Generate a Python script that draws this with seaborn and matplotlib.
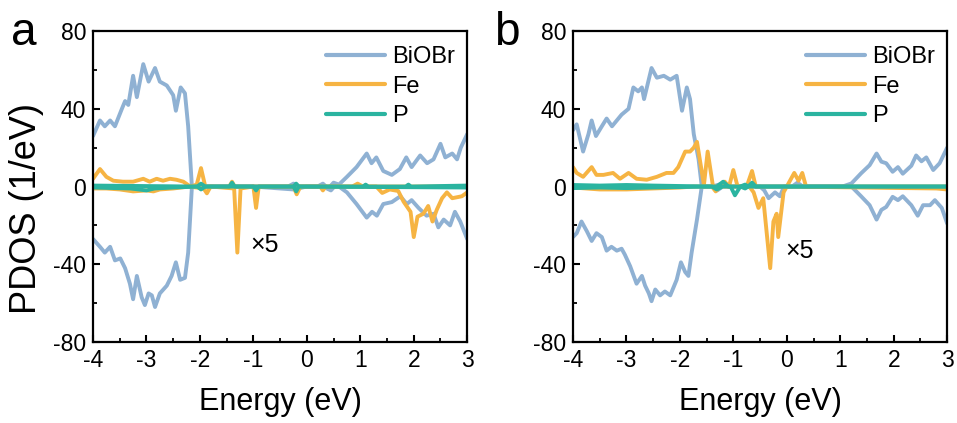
import numpy as np
import pandas as pd
import matplotlib
matplotlib.use("Agg")
import matplotlib.pyplot as plt
from matplotlib.ticker import MultipleLocator
import seaborn as sns

# ---------------- data ----------------
series_names = ["BiOBr", "Fe", "P"]
colors = {"BiOBr": "#8FB1D3", "Fe": "#F6B443", "P": "#2BB4A0"}
x_ticks = [-4, -3, -2, -1, 0, 1, 2, 3]
y_ticks = [-80, -40, 0, 40, 80]
panel_labels = ["a", "b"]

# ---- panel a ----
a_bi_up_x = [-4.0, -3.87, -3.78, -3.68, -3.59, -3.46, -3.40, -3.34, -3.25, -3.18, -3.06, -2.96,
             -2.84, -2.75, -2.62, -2.50, -2.45, -2.36, -2.28, -2.22, -2.15, -2.0, -1.0, -0.35,
             -0.25, -0.15, 0.2, 0.3, 0.4, 0.5, 0.6, 0.75, 0.93, 1.12, 1.21, 1.30, 1.43, 1.59,
             1.74, 1.86, 1.96, 2.12, 2.25, 2.37, 2.50, 2.59, 2.72, 2.81, 2.88, 3.0]
a_bi_up_y = [26, 34, 31, 34, 31, 40, 44, 42, 57, 46, 63, 54,
             61, 54, 52, 47, 39, 51, 48, 31, 0, 0, 0, 0,
             1.5, 0, 0, 1.5, -1, 2, 1, 5, 10, 17, 12, 15, 8, 6,
             9, 15, 10, 16, 12, 14, 22, 15, 17, 14, 20, 27]
a_bi_dn_x = [-4.0, -3.87, -3.78, -3.68, -3.59, -3.49, -3.40, -3.31, -3.25, -3.18, -3.09, -3.03,
             -2.96, -2.90, -2.84, -2.75, -2.62, -2.53, -2.45, -2.37, -2.28, -2.22, -2.15, -2.0,
             -1.0, -0.25, 0.0, 0.3, 0.45, 0.55, 0.65, 0.75, 0.93, 1.12, 1.22, 1.31, 1.43, 1.59,
             1.75, 1.87, 1.96, 2.09, 2.24, 2.37, 2.46, 2.56, 2.68, 2.77, 2.87, 3.0]
a_bi_dn_y = [-27, -31, -34, -31, -38, -37, -42, -50, -58, -46, -57, -61,
             -55, -56, -62, -55, -51, -46, -39, -48, -47, -34, 0, 0,
             0, -1.5, 0, 0, -2, 1, -1, -3, -9, -16, -13, -15, -9, -8,
             -5, -9, -7, -11, -15, -14, -21, -17, -20, -13, -18, -27]
a_fe_up_x = [-4.0, -3.87, -3.75, -3.62, -3.44, -3.25, -3.06, -2.94, -2.81, -2.69, -2.56, -2.44,
             -2.31, -2.18, -2.06, -1.98, -1.90, -1.45, -1.40, -1.35, 0.85, 0.95, 1.05, 3.0]
a_fe_up_y = [4, 9, 5, 3, 2.5, 2.5, 4, 2.5, 4, 3, 4, 3.5,
             2.5, 0, 1, 9.5, 0, 0, 2.5, 0, 0, 1.5, 0, 0]
a_fe_dn_x = [-4.0, -3.75, -3.5, -3.25, -3.0, -2.87, -2.75, -2.5, -2.2, -1.93, -1.87, -1.80,
             -1.36, -1.30, -1.24, -1.0, -0.95, -0.90, -0.25, -0.19, -0.12, 0.25, 0.3, 0.35,
             1.3, 1.41, 1.55, 1.71, 1.81, 1.94, 2.0, 2.07, 2.18, 2.27, 2.35, 2.43, 2.53,
             2.62, 2.72, 2.9, 3.0]
a_fe_dn_y = [-1, -1, -1.5, -2.5, -2, -2.5, -1.5, -1, 0, -1, -3.5, 0,
             -1, -34, -1, 0, -11, 0, 0, -4, 0, 0, -2, 0,
             0, -3.3, -1.5, -2.3, -7.8, -13, -26, -15.5, -14, -10, -18, -12, -6,
             -3, -6, -5, -3]
a_p_up_x = [-4.0, -2.05, -1.98, -1.9, -1.45, -1.40, -1.35, -0.25, -0.2, -0.15, 1.05, 1.1, 1.15,
            1.85, 1.9, 1.95, 3.0]
a_p_up_y = [0.5, 0, 1.5, 0, 0, 2, 0, 0, 1.5, 0, 0, 1, 0, 0, 1, 0, 0.5]
a_p_dn_x = [-4.0, -3.3, -3.0, -2.85, -2.5, -2.05, -1.98, -1.9, -1.0, -0.95, -0.9, -0.25, -0.2,
            -0.15, 3.0]
a_p_dn_y = [-0.5, -1, -2, -1, -0.5, 0, -1.5, 0, 0, -2, 0, 0, -2.5, 0, -0.5]

# ---- panel b ----
b_bi_up_x = [-4.0, -3.93, -3.81, -3.71, -3.65, -3.57, -3.46, -3.37, -3.27, -3.18, -3.09, -2.96,
             -2.87, -2.78, -2.71, -2.67, -2.53, -2.43, -2.30, -2.18, -2.06, -1.96, -1.87, -1.81,
             -1.74, -1.65, -1.59, -1.4, -1.2, -1.1, 0.1, 0.2, 0.3, 1.04, 1.21, 1.39, 1.55, 1.68,
             1.77, 1.86, 1.98, 2.08, 2.17, 2.33, 2.42, 2.52, 2.61, 2.74, 2.86, 3.0]
b_bi_up_y = [29, 32, 18, 27, 34, 26, 31, 35, 31, 34, 37, 40,
             51, 49, 51, 45, 61, 56, 57, 55, 57, 39, 51, 45,
             27, 14, 0, 0, 1.5, 0, 0, 2, 0, 0, 1.6, 6.8, 11, 17,
             12.8, 12, 7.6, 10, 6.6, 10.7, 16, 13, 15, 8.5, 12, 20]
b_bi_dn_x = [-4.0, -3.93, -3.84, -3.74, -3.65, -3.56, -3.46, -3.37, -3.28, -3.18, -3.09, -3.03,
             -2.93, -2.81, -2.71, -2.65, -2.58, -2.53, -2.46, -2.37, -2.28, -2.18, -2.06, -1.98,
             -1.90, -1.84, -1.78, -1.68, -1.59, -1.4, -1.3, -1.2, -0.5, -0.42, -0.34, -0.22,
             -0.13, -0.05, 1.04, 1.21, 1.39, 1.55, 1.68, 1.77, 1.86, 1.98, 2.08, 2.17, 2.33,
             2.45, 2.55, 2.68, 2.77, 2.9, 3.0]
b_bi_dn_y = [-26, -24, -18, -23, -28, -24, -26, -33, -31, -33, -32, -35,
             -41, -50, -46, -51, -55, -59, -53, -56, -54, -56, -48, -39,
             -44, -46, -34, -17, 0, 0, -2, 0, 0, -2, -6, -3,
             -5, 0, 0, 0, -5, -9.6, -17, -12, -10.5, -5.3, -7, -5, -9.6,
             -15, -9.6, -9.6, -7, -11, -19]
b_fe_up_x = [-4.0, -3.93, -3.81, -3.65, -3.56, -3.43, -3.25, -3.12, -2.96, -2.81, -2.62, -2.43,
             -2.25, -2.12, -2.03, -1.90, -1.81, -1.74, -1.68, -1.55, -1.48, -1.38, -1.25, -1.16,
             -1.08, -1.0, -0.92, -0.75, -0.65, -0.58, 0.0, 0.14, 0.22, 0.29, 0.36, 3.0]
b_fe_up_y = [10, 7, 5, 10, 6, 6, 7, 4, 7, 4, 3.5, 5,
             7, 7, 10, 18, 18, 20, 23, 0.8, 18, 0, 0, 2.5,
             0, 8.5, 0, 0, 8, 0, 0, 7, 3, 7, 0, 0]
b_fe_dn_x = [-4.0, -3.5, -3.0, -2.5, -2.0, -1.75, -1.4, -1.33, -1.25, -0.7, -0.62, -0.53,
             -0.44, -0.31, -0.25, -0.19, -0.16, -0.06, 0.0, 2.8, 3.0]
b_fe_dn_y = [-0.5, -1.5, -1.5, -1, -0.5, 0, 0, -2.5, 0, 0, -3, -11,
             -6, -42, -18, -14, -26, -3, 0, -1, -1.5]
b_p_up_x = [-4.0, -3.5, -3.0, -2.5, -1.4, -1.31, -1.19, -1.09, -0.87, -0.78, -0.72, -0.65,
            -0.58, 3.0]
b_p_up_y = [0.8, 0.5, 0.8, 0.5, 0, 0, 2.5, 0, 0, 1, 0, 2, 0, 0]
b_p_dn_x = [-4.0, -3.5, -3.0, -2.5, -1.4, -1.31, -1.2, -1.05, -0.97, -0.87, -0.78, -0.72,
            -0.6, 3.0]
b_p_dn_y = [-0.8, -0.5, -0.8, -0.5, 0, -1.5, 0, 0, -4.5, 0, -1, 0, 0, 0]

x5_label = "\u00d75"
x5_pos = [(-1.06, -30), (-0.03, -33)]

panels = [
    {"BiOBr": [(a_bi_up_x, a_bi_up_y), (a_bi_dn_x, a_bi_dn_y)],
     "Fe": [(a_fe_up_x, a_fe_up_y), (a_fe_dn_x, a_fe_dn_y)],
     "P": [(a_p_up_x, a_p_up_y), (a_p_dn_x, a_p_dn_y)]},
    {"BiOBr": [(b_bi_up_x, b_bi_up_y), (b_bi_dn_x, b_bi_dn_y)],
     "Fe": [(b_fe_up_x, b_fe_up_y), (b_fe_dn_x, b_fe_dn_y)],
     "P": [(b_p_up_x, b_p_up_y), (b_p_dn_x, b_p_dn_y)]},
]

# ---------------- style ----------------
sns.set_style("ticks", {"xtick.direction": "in", "ytick.direction": "in"})
plt.rcParams["font.family"] = ["Liberation Sans", "DejaVu Sans"]
plt.rcParams["axes.linewidth"] = 1.6
for key in ["text.color", "axes.labelcolor", "xtick.color", "ytick.color",
            "xtick.labelcolor", "ytick.labelcolor", "axes.edgecolor"]:
    plt.rcParams[key] = "black"

fig = plt.figure(figsize=(9.57, 4.23), dpi=100)
axes_rects = [[0.0972, 0.1915, 0.391, 0.735], [0.5987, 0.1915, 0.391, 0.735]]
label_pos = [(0.011, 0.893), (0.516, 0.893)]

for i, rect in enumerate(axes_rects):
    ax = fig.add_axes(rect)
    data = panels[i]
    for name in series_names:
        for k, (xs, ys) in enumerate(data[name]):
            df = pd.DataFrame({"Energy": xs, "PDOS": ys})
            sns.lineplot(data=df, x="Energy", y="PDOS", ax=ax, color=colors[name],
                         linewidth=2.8, sort=False, estimator=None,
                         label=name if k == 0 else None)
    ax.set_xlim(-4, 3)
    ax.set_ylim(-80, 80)
    ax.set_xticks(x_ticks)
    ax.set_yticks(y_ticks)
    ax.set_xticklabels([str(t) for t in x_ticks])
    ax.set_yticklabels([str(t) for t in y_ticks])
    ax.xaxis.set_minor_locator(MultipleLocator(0.5))
    ax.yaxis.set_minor_locator(MultipleLocator(20))
    ax.tick_params(which="major", direction="in", length=5, width=1.5, labelsize=16.5, pad=5,
                   colors="black")
    ax.tick_params(which="minor", direction="in", length=3, width=1.3, colors="black")
    for s in ax.spines.values():
        s.set_visible(True)
        s.set_linewidth(1.6)
        s.set_color("black")
    ax.set_xlabel("Energy (eV)", fontsize=22, labelpad=11, color="black")
    if i == 0:
        ax.set_ylabel("PDOS (1/eV)", fontsize=26, color="black")
        ax.yaxis.set_label_coords(-0.13, 0.43)
    else:
        ax.set_ylabel("")
    leg = ax.legend(loc="upper right", bbox_to_anchor=(1.0, 0.99), frameon=False,
                    fontsize=17, handlelength=2.5, handletextpad=0.3, labelspacing=0.32,
                    borderaxespad=0.1)
    for t in leg.get_texts():
        t.set_color("black")
    for h in leg.get_lines():
        h.set_linewidth(3.0)
    xt, yt = x5_pos[i]
    ax.text(xt, yt, x5_label, fontsize=18, va="center", ha="left", color="black")
    fig.text(label_pos[i][0], label_pos[i][1], panel_labels[i], fontsize=33, color="black")

fig.savefig("out.png", dpi=100)
